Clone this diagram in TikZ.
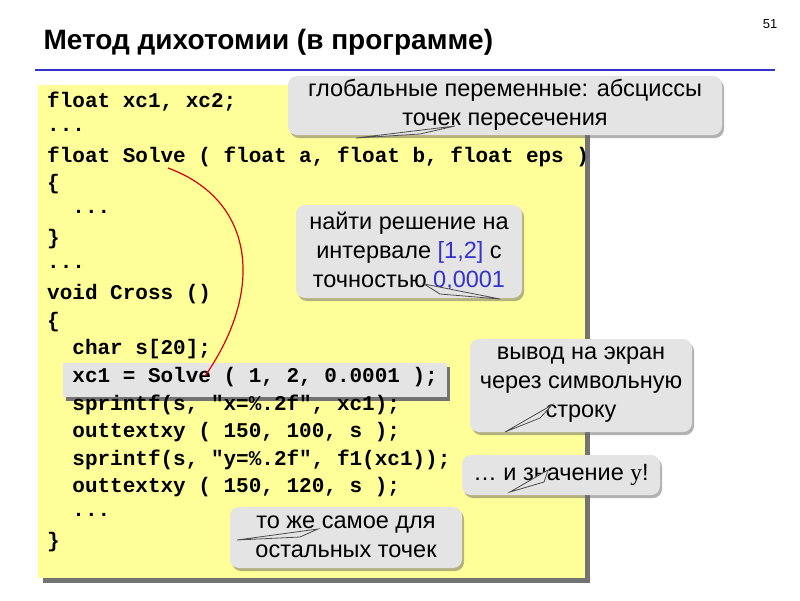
\documentclass[tikz,border=0pt]{standalone}
\usepackage{fontspec}
\setmainfont{Liberation Sans}
\newfontfamily\codefont{Liberation Mono}
\usetikzlibrary{shadows}
\definecolor{yel}{HTML}{FFFF99}
\definecolor{cb}{HTML}{E4E4E4}
\definecolor{bl}{HTML}{3333CC}
\tikzset{
  code/.style={anchor=west,inner sep=0pt,font=\codefont\bfseries\fontsize{21}{22}\selectfont},
  ctext/.style={align=center,font=\fontsize{23.5}{29}\selectfont},
  cbox/.style={fill=cb,rounded corners=9pt,drop shadow={shadow xshift=2pt,shadow yshift=-3pt,fill=black!60}},
  tail/.style={fill=cb,draw=black!70,line width=0.8pt}
}
\newcommand\cl[3]{\node[code] (#1) at (47,{102+27.5*#2}) {#3};}
\begin{document}
\begin{tikzpicture}[x=1pt,y=-1pt]
\useasboundingbox (0,0) rectangle (800,600);
\node[anchor=west,font=\bfseries\fontsize{28}{32}\selectfont] (title) at (40,42) {Метод дихотомии (в программе)};
\node[font=\fontsize{13}{15}\selectfont] (num) at (770,24) {51};
\draw[bl,line width=1.5pt] (35,70) -- (775,70);
\fill[black!55] (43,90) rectangle (590,583);
\fill[yel] (38,85) rectangle (585,578);
% highlight box
\fill[black!55] (66,367) rectangle (450,401);
\fill[cb] (63,363) rectangle (447,397);
\cl{l0}{0}{float xc1, xc2;}
\cl{l1}{1}{...}
\cl{l2}{2}{float Solve ( float a, float b, float eps )}
\cl{l3}{3}{\{}
\cl{l4}{4}{\ \ ...}
\cl{l5}{5}{\}}
\cl{l6}{6}{...}
\cl{l7}{7}{void Cross ()}
\cl{l8}{8}{\{}
\cl{l9}{9}{\ \ char s[20];}
\cl{l10}{10}{\ \ xc1 = Solve ( 1, 2, 0.0001 );}
\cl{l11}{11}{\ \ sprintf(s, "x=\%.2f", xc1);}
\cl{l12}{12}{\ \ outtextxy ( 150, 100, s );}
\cl{l13}{13}{\ \ sprintf(s, "y=\%.2f", f1(xc1));}
\cl{l14}{14}{\ \ outtextxy ( 150, 120, s );}
\cl{l15}{15}{\ \ ...}
\cl{l16}{16}{\}}
\draw[red!85!black,line width=1.2pt] (168,168) .. controls (255,200) and (265,290) .. (205,376);
% callout 1
\fill[cbox] (288,76) rectangle (722,135);
\node[ctext] (c1) at (505,105) {глобальные переменные: абсциссы\\точек пересечения};
\fill[tail] (356,138) -- (455,126) -- (420,134) -- cycle;
% callout 2
\fill[cbox] (296,205) rectangle (522,298);
\node[ctext] (c2) at (409,251) {найти решение на\\интервале {\color{bl}[1,2]} с\\точностью {\color{bl}0,0001}};
\fill[tail] (424,284) -- (500,299) -- (440,294) -- cycle;
% callout 3
\fill[cbox] (470,339) rectangle (692,432);
\node[ctext] (c3) at (581,385) {вывод на экран\\через символьную\\строку};
\fill[tail] (505,432) -- (552,405) -- (540,418) -- cycle;
% callout 4
\fill[cbox] (462,455) rectangle (660,495);
\node[ctext] (c4) at (561,475) {… и значение {\fontspec{Liberation Serif}y}!};
\fill[tail] (510,492) -- (548,470) -- (544,482) -- cycle;
% callout 5
\fill[cbox] (230,507) rectangle (462,568);
\node[ctext] (c5) at (346,537) {то же самое для\\остальных точек};
\fill[tail] (237,540) -- (318,529) -- (300,537) -- cycle;
\end{tikzpicture}
\end{document}
